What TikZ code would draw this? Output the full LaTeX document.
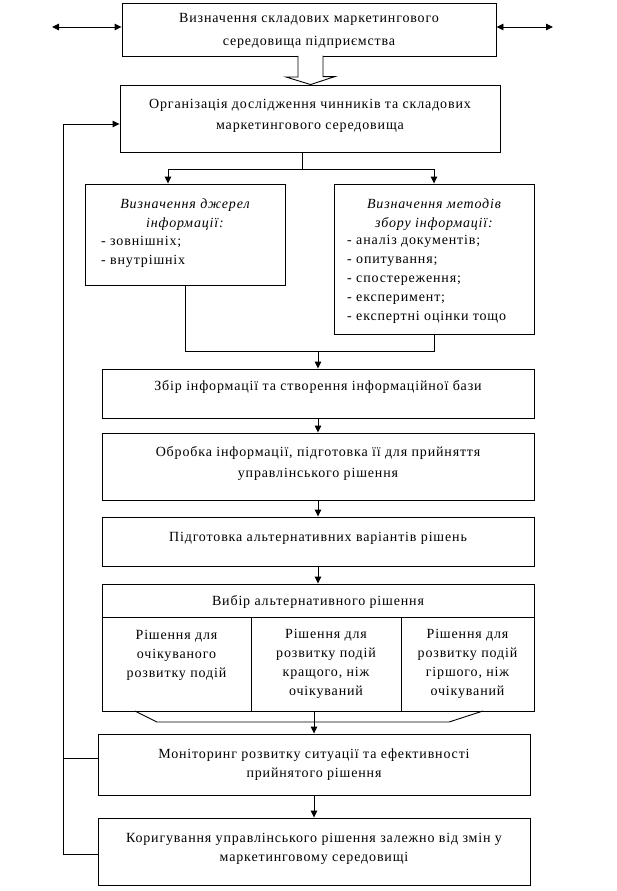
\documentclass[tikz,border=0pt]{standalone}
\usepackage{fontspec}
\setmainfont{Liberation Serif}[LetterSpace=6]
\usepackage{tikz}
\usetikzlibrary{arrows.meta,positioning,calc}
\newcommand{\boxfs}{\fontsize{14}{21}\selectfont}
\newcommand{\colfs}{\fontsize{14}{19}\selectfont}
\newcommand{\topfs}{\fontsize{14}{23.5}\selectfont}
\tikzset{
  blk/.style={draw=black,line width=0.9pt,fill=white,inner sep=0pt},
  txt/.style={align=center,font=\boxfs,inner sep=0pt,anchor=base},
  ctxt/.style={txt,font=\colfs},
  ltxt/.style={align=left,font=\colfs,inner sep=0pt,anchor=base west},
  ln/.style={line width=0.9pt},
  conn/.style={-{Triangle[length=7pt,width=6.5pt]},line width=0.9pt},
  both/.style={{Triangle[length=7pt,width=6.5pt]}-{Triangle[length=7pt,width=6.5pt]},line width=0.9pt},
  hollow/.style={draw=black,fill=white,line width=0.9pt},
}

\begin{document}
\begin{tikzpicture}[x=1pt,y=-1pt]
  \useasboundingbox (0,0) rectangle (617,891);
  \node[blk,minimum width=374,minimum height=53] (top) at (309,29.5) {};
  \node[txt,font=\topfs] (topt) at (309,45.5) {Визначення складових маркетингового\\середовища підприємства};
  \node[blk,minimum width=380,minimum height=67] (org) at (310,118.5) {};
  \node[txt] (orgt) at (310,129) {Організація дослідження чинників та складових\\маркетингового середовища};
  \node[blk,minimum width=200,minimum height=101] (src) at (185,234.5) {};
  \node[ctxt,font=\colfs\itshape] (srct) at (185,227) {Визначення джерел\\інформації:};
  \node[ltxt] (srcl) at (101,264) {- зовнішніх;\\- внутрішніх};
  \node[blk,minimum width=200,minimum height=150] (meth) at (434,259) {};
  \node[ctxt,font=\colfs\itshape] (metht) at (434,227) {Визначення методів\\збору інформації:};
  \node[ltxt] (methl) at (347,320) {- аналіз документів;\\- опитування;\\- спостереження;\\- експеримент;\\- експертні оцінки тощо};
  \node[blk,minimum width=432,minimum height=49] (coll) at (318,393.5) {};
  \node[txt] (collt) at (318,390) {Збір інформації та створення інформаційної бази};
  \node[blk,minimum width=432,minimum height=67] (proc) at (318,466.5) {};
  \node[txt] (proct) at (318,477) {Обробка інформації, підготовка її для прийняття\\управлінського рішення};
  \node[blk,minimum width=432,minimum height=49] (alt) at (318,541.5) {};
  \node[txt] (altt) at (318,541) {Підготовка альтернативних варіантів рішень};
  \node[blk,minimum width=432,minimum height=127] (choice) at (318,647.5) {};
  \node[txt] (choicet) at (318,605) {Вибір альтернативного рішення};
  \coordinate (hd) at (0,617);
  \coordinate (c1) at (251,617);
  \coordinate (c2) at (401,617);
  \draw[ln] (choice.west |- hd) -- (choice.east |- hd);
  \draw[ln] (c1) -- (c1 |- choice.south);
  \draw[ln] (c2) -- (c2 |- choice.south);
  \node[ctxt] (col1) at (176.5,677) {Рішення для\\очікуваного\\розвитку подій};
  \node[ctxt] (col2) at (326,695) {Рішення для\\розвитку подій\\кращого, ніж\\очікуваний};
  \node[ctxt] (col3) at (467.5,695) {Рішення для\\розвитку подій\\гіршого, ніж\\очікуваний};
  \node[blk,minimum width=432,minimum height=61] (mon) at (314,764.5) {};
  \node[ctxt] (mont) at (314,777) {Моніторинг розвитку ситуації та ефективності\\прийнятого рішення};
  \node[blk,minimum width=432,minimum height=67] (corr) at (314,851.5) {};
  \node[ctxt] (corrt) at (314,861) {Коригування управлінського рішення залежно від змін у\\маркетинговому середовищі};

  \coordinate (envL) at (52,27);
  \coordinate (envR) at (553,27);
  \draw[both] (envL) -- (top.west |- envL);
  \draw[both] (top.east |- envR) -- (envR);
  \coordinate (ha) at (310.5,56);
  \draw[hollow] ([xshift=-12.5]ha) -- ++(0,21) -- ++(-12,0) -- (ha |- org.north)
    -- ++(24.5,-8) -- ++(-12,0) -- ++(0,-21);

  \draw[ln] ([xshift=-8]org.south) -- ++(0,17) coordinate (fork);
  \draw[conn] (fork) -| ([xshift=-17]src.north);
  \draw[conn] (fork) -| (meth.north);
  \draw[ln] (src.south) -- ++(0,66) coordinate (join) -| (meth.south);
  \draw[conn] (join -| coll.north) -- (coll.north);
  \draw[conn] (coll) -- (proc);
  \draw[conn] (proc) -- (alt);
  \draw[conn] (alt) -- (choice);
  \draw[ln] (135,711) -- (157,722) -- (449,722) -- (483,711);
  \draw[conn] (choice.south -| mon.north) -- (mon.north);
  \draw[conn] (mon) -- (corr);

  \coordinate (fb) at (63,0);
  \draw[conn] ([yshift=-2.5]corr.west) -- ([yshift=-2.5]corr.west -| fb) |- ([yshift=-5.5]org.west);
  \draw[ln] ([yshift=6.5]mon.west) -- ([yshift=6.5]mon.west -| fb);
\end{tikzpicture}
\end{document}
